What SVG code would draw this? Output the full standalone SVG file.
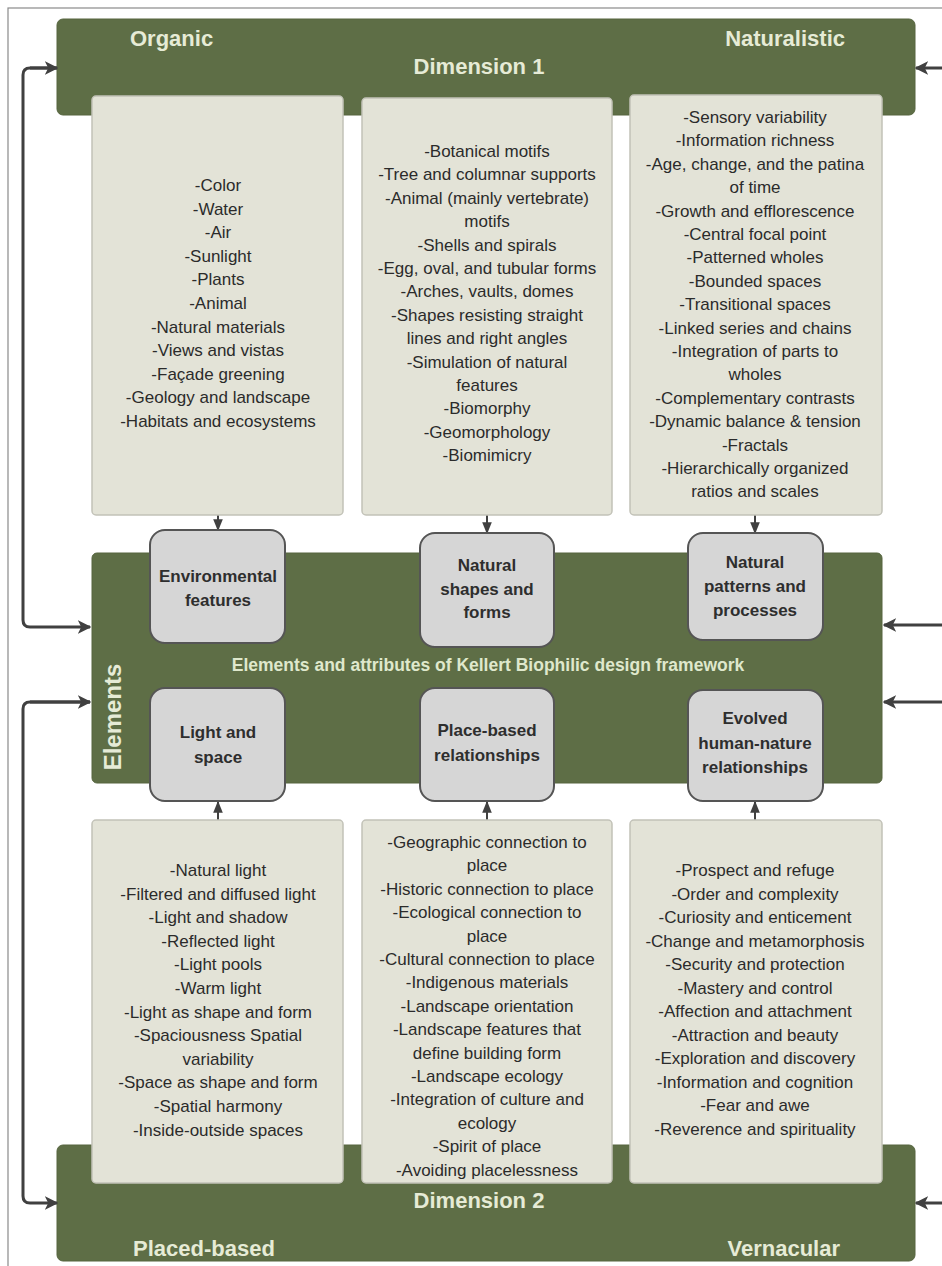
<svg xmlns="http://www.w3.org/2000/svg" width="942" height="1266" viewBox="0 0 942 1266">
<defs>
<marker id="ah" viewBox="0 0 10 10" refX="9" refY="5" markerWidth="4.5" markerHeight="4.5" orient="auto" markerUnits="strokeWidth">
<path d="M0,0 L10,5 L0,10 L2.5,5 Z" fill="#404040"/>
</marker>
<marker id="sh" viewBox="0 0 10 10" refX="9" refY="5" markerWidth="6" markerHeight="6" orient="auto" markerUnits="strokeWidth">
<path d="M0,1 L10,5 L0,9 Z" fill="#404040"/>
</marker>
<style>
.band{fill:#5e6e46;stroke:#56653f;stroke-width:1}
.card{fill:#e3e3d7;stroke:#c2c2b8;stroke-width:1.5}
.node{fill:#d6d6d6;stroke:#555;stroke-width:2}
.bt{font-family:"Liberation Sans",Arial,sans-serif;font-weight:bold;fill:#e6ebd6;font-size:22px}
.ct{font-family:"Liberation Sans",Arial,sans-serif;fill:#2b2b2b;font-size:17px;text-anchor:middle}
.nt{font-family:"Liberation Sans",Arial,sans-serif;font-weight:bold;fill:#2e2e2e;font-size:17px;text-anchor:middle}
.con{fill:none;stroke:#404040;stroke-width:3;stroke-linejoin:round}
.sc{fill:none;stroke:#404040;stroke-width:2}
</style>
</defs>
<rect x="8" y="8" width="960" height="1280" fill="#fff" stroke="#8a8a8a" stroke-width="1.2"/>

<g id="dimension1">
<rect class="band" x="57" y="19" width="858" height="96" rx="6"/>
<text class="bt" x="130" y="46">Organic</text>
<text class="bt" x="479" y="74" text-anchor="middle">Dimension 1</text>
<text class="bt" x="845" y="46" text-anchor="end">Naturalistic</text>
</g>

<g id="dimension2">
<rect class="band" x="57" y="1145" width="858" height="116" rx="6"/>
<text class="bt" x="479" y="1208" text-anchor="middle">Dimension 2</text>
<text class="bt" x="133" y="1256">Placed-based</text>
<text class="bt" x="840" y="1256" text-anchor="end">Vernacular</text>
</g>

<g id="elements">
<rect class="band" x="92" y="553" width="790" height="230" rx="5"/>
<text class="bt" x="488" y="671" text-anchor="middle" style="font-size:17.5px;fill:#dfe8cc">Elements and attributes of Kellert Biophilic design framework</text>
<text class="bt" transform="translate(121,717) rotate(-90)" text-anchor="middle" style="font-size:24px">Elements</text>
</g>

<g id="connectors">
<path class="con" d="M57,68 H30 Q23,68 23,75 V620 Q23,627 30,627 H90" marker-end="url(#ah)"/>
<path class="con" d="M30,68 H57" marker-end="url(#ah)"/>
<path class="con" d="M90,702 H30 Q23,702 23,709 V1196 Q23,1203 30,1203 H57" marker-end="url(#ah)"/>
<path class="con" d="M30,702 H90" marker-end="url(#ah)"/>
<path class="con" d="M942,68 H916" marker-end="url(#ah)"/>
<path class="con" d="M942,625 H884" marker-end="url(#ah)"/>
<path class="con" d="M942,702 H884" marker-end="url(#ah)"/>
<path class="con" d="M942,1203 H916" marker-end="url(#ah)"/>
<path class="sc" d="M218,515 V530" marker-end="url(#sh)"/>
<path class="sc" d="M487,515 V533" marker-end="url(#sh)"/>
<path class="sc" d="M755,515 V533" marker-end="url(#sh)"/>
<path class="sc" d="M218,820 V802" marker-end="url(#sh)"/>
<path class="sc" d="M487,820 V802" marker-end="url(#sh)"/>
<path class="sc" d="M755,820 V802" marker-end="url(#sh)"/>
</g>

<g id="card-environmental">
<rect class="card" x="92" y="96" width="251" height="419" rx="4"/>
<text class="ct" y="191">
<tspan x="218">-Color</tspan><tspan x="218" dy="23.6">-Water</tspan><tspan x="218" dy="23.6">-Air</tspan><tspan x="218" dy="23.6">-Sunlight</tspan><tspan x="218" dy="23.6">-Plants</tspan><tspan x="218" dy="23.6">-Animal</tspan><tspan x="218" dy="23.6">-Natural materials</tspan><tspan x="218" dy="23.6">-Views and vistas</tspan><tspan x="218" dy="23.6">-Façade greening</tspan><tspan x="218" dy="23.6">-Geology and landscape</tspan><tspan x="218" dy="23.6">-Habitats and ecosystems</tspan>
</text>
</g>

<g id="card-shapes">
<rect class="card" x="362" y="98" width="250" height="417" rx="4"/>
<text class="ct" y="157">
<tspan x="487">-Botanical motifs</tspan><tspan x="487" dy="23.4">-Tree and columnar supports</tspan><tspan x="487" dy="23.4">-Animal (mainly vertebrate)</tspan><tspan x="487" dy="23.4">motifs</tspan><tspan x="487" dy="23.4">-Shells and spirals</tspan><tspan x="487" dy="23.4">-Egg, oval, and tubular forms</tspan><tspan x="487" dy="23.4">-Arches, vaults, domes</tspan><tspan x="487" dy="23.4">-Shapes resisting straight</tspan><tspan x="487" dy="23.4">lines and right angles</tspan><tspan x="487" dy="23.4">-Simulation of natural</tspan><tspan x="487" dy="23.4">features</tspan><tspan x="487" dy="23.4">-Biomorphy</tspan><tspan x="487" dy="23.4">-Geomorphology</tspan><tspan x="487" dy="23.4">-Biomimicry</tspan>
</text>
</g>

<g id="card-patterns">
<rect class="card" x="630" y="95" width="252" height="420" rx="4"/>
<text class="ct" y="123">
<tspan x="755">-Sensory variability</tspan><tspan x="755" dy="23.4">-Information richness</tspan><tspan x="755" dy="23.4">-Age, change, and the patina</tspan><tspan x="755" dy="23.4">of time</tspan><tspan x="755" dy="23.4">-Growth and efflorescence</tspan><tspan x="755" dy="23.4">-Central focal point</tspan><tspan x="755" dy="23.4">-Patterned wholes</tspan><tspan x="755" dy="23.4">-Bounded spaces</tspan><tspan x="755" dy="23.4">-Transitional spaces</tspan><tspan x="755" dy="23.4">-Linked series and chains</tspan><tspan x="755" dy="23.4">-Integration of parts to</tspan><tspan x="755" dy="23.4">wholes</tspan><tspan x="755" dy="23.4">-Complementary contrasts</tspan><tspan x="755" dy="23.4">-Dynamic balance &amp; tension</tspan><tspan x="755" dy="23.4">-Fractals</tspan><tspan x="755" dy="23.4">-Hierarchically organized</tspan><tspan x="755" dy="23.4">ratios and scales</tspan>
</text>
</g>

<g id="card-light">
<rect class="card" x="92" y="820" width="251" height="363" rx="4"/>
<text class="ct" y="876">
<tspan x="218">-Natural light</tspan><tspan x="218" dy="23.6">-Filtered and diffused light</tspan><tspan x="218" dy="23.6">-Light and shadow</tspan><tspan x="218" dy="23.6">-Reflected light</tspan><tspan x="218" dy="23.6">-Light pools</tspan><tspan x="218" dy="23.6">-Warm light</tspan><tspan x="218" dy="23.6">-Light as shape and form</tspan><tspan x="218" dy="23.6">-Spaciousness Spatial</tspan><tspan x="218" dy="23.6">variability</tspan><tspan x="218" dy="23.6">-Space as shape and form</tspan><tspan x="218" dy="23.6">-Spatial harmony</tspan><tspan x="218" dy="23.6">-Inside-outside spaces</tspan>
</text>
</g>

<g id="card-place">
<rect class="card" x="362" y="820" width="250" height="363" rx="4"/>
<text class="ct" y="848">
<tspan x="487">-Geographic connection to</tspan><tspan x="487" dy="23.4">place</tspan><tspan x="487" dy="23.4">-Historic connection to place</tspan><tspan x="487" dy="23.4">-Ecological connection to</tspan><tspan x="487" dy="23.4">place</tspan><tspan x="487" dy="23.4">-Cultural connection to place</tspan><tspan x="487" dy="23.4">-Indigenous materials</tspan><tspan x="487" dy="23.4">-Landscape orientation</tspan><tspan x="487" dy="23.4">-Landscape features that</tspan><tspan x="487" dy="23.4">define building form</tspan><tspan x="487" dy="23.4">-Landscape ecology</tspan><tspan x="487" dy="23.4">-Integration of culture and</tspan><tspan x="487" dy="23.4">ecology</tspan><tspan x="487" dy="23.4">-Spirit of place</tspan><tspan x="487" dy="23.4">-Avoiding placelessness</tspan>
</text>
</g>

<g id="card-evolved">
<rect class="card" x="630" y="820" width="252" height="363" rx="4"/>
<text class="ct" y="876">
<tspan x="755">-Prospect and refuge</tspan><tspan x="755" dy="23.5">-Order and complexity</tspan><tspan x="755" dy="23.5">-Curiosity and enticement</tspan><tspan x="755" dy="23.5">-Change and metamorphosis</tspan><tspan x="755" dy="23.5">-Security and protection</tspan><tspan x="755" dy="23.5">-Mastery and control</tspan><tspan x="755" dy="23.5">-Affection and attachment</tspan><tspan x="755" dy="23.5">-Attraction and beauty</tspan><tspan x="755" dy="23.5">-Exploration and discovery</tspan><tspan x="755" dy="23.5">-Information and cognition</tspan><tspan x="755" dy="23.5">-Fear and awe</tspan><tspan x="755" dy="23.5">-Reverence and spirituality</tspan>
</text>
</g>

<g id="node-environmental">
<rect class="node" x="150" y="530" width="135" height="113" rx="15"/>
<text class="nt" y="582"><tspan x="218">Environmental</tspan><tspan x="218" dy="23.5">features</tspan></text>
</g>
<g id="node-shapes">
<rect class="node" x="420" y="533" width="134" height="114" rx="15"/>
<text class="nt" y="571"><tspan x="487">Natural</tspan><tspan x="487" dy="23.5">shapes and</tspan><tspan x="487" dy="23.5">forms</tspan></text>
</g>
<g id="node-patterns">
<rect class="node" x="688" y="533" width="135" height="107" rx="15"/>
<text class="nt" y="568"><tspan x="755">Natural</tspan><tspan x="755" dy="24">patterns and</tspan><tspan x="755" dy="24">processes</tspan></text>
</g>
<g id="node-light">
<rect class="node" x="150" y="688" width="135" height="113" rx="15"/>
<text class="nt" y="738"><tspan x="218">Light and</tspan><tspan x="218" dy="24.5">space</tspan></text>
</g>
<g id="node-place">
<rect class="node" x="420" y="688" width="134" height="113" rx="15"/>
<text class="nt" y="736"><tspan x="487">Place-based</tspan><tspan x="487" dy="25">relationships</tspan></text>
</g>
<g id="node-evolved">
<rect class="node" x="688" y="690" width="135" height="111" rx="15"/>
<text class="nt" y="724"><tspan x="755">Evolved</tspan><tspan x="755" dy="24.5">human-nature</tspan><tspan x="755" dy="24.5">relationships</tspan></text>
</g>
</svg>
